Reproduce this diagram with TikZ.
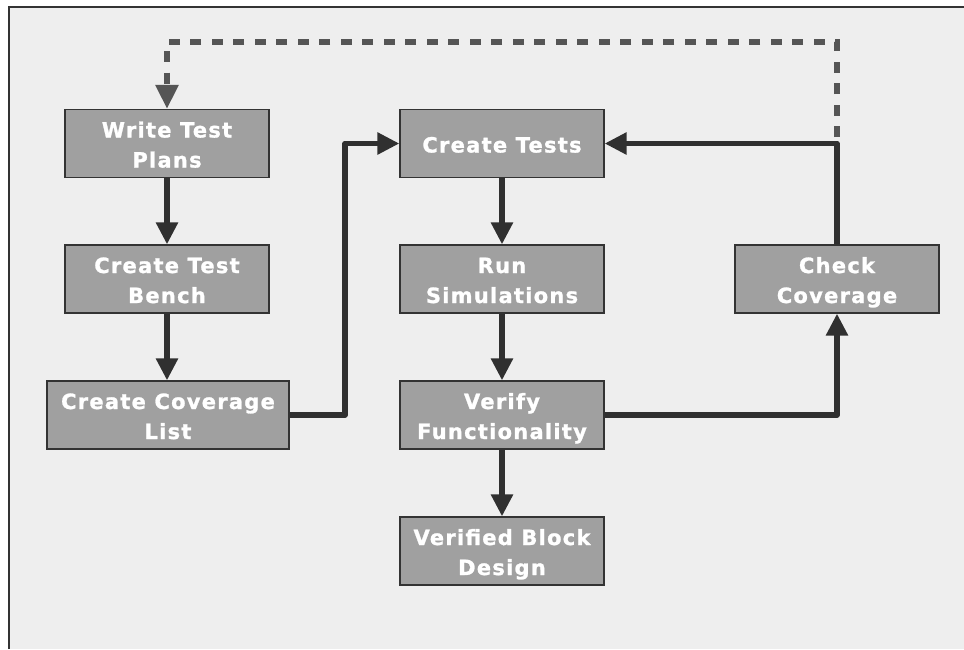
\documentclass[tikz,border=0pt]{standalone}
\usepackage{fontspec}
\setmainfont{DejaVu Sans}
\newfontfamily\boxfont{DejaVu Sans Bold}[LetterSpace=6,FakeBold=1.2]
\usetikzlibrary{arrows.meta}
\definecolor{bggray}{HTML}{EEEEEE}
\definecolor{boxgray}{HTML}{A0A0A0}
\definecolor{edgegray}{HTML}{333333}
\definecolor{linegray}{HTML}{303030}
\definecolor{dashgray}{HTML}{555555}
\newcommand{\bs}{\rule[-6pt]{0pt}{30pt}}
\tikzset{
  box/.style={draw=edgegray, line width=1.2pt, fill=boxgray, text=white,
    minimum width=204pt, minimum height=68pt, inner sep=0pt, align=center,
    font=\boxfont\fontsize{21}{30}\selectfont},
  flow/.style={draw=linegray, line width=5.5pt, line join=round,
    -{Triangle[length=22pt,width=21pt]}, color=linegray},
  dashflow/.style={draw=dashgray, line width=5.5pt, dash pattern=on 11pt off 10.5pt,
    -{Triangle[length=24pt,width=22pt]}, color=dashgray},
}
\begin{document}
\begin{tikzpicture}[x=1pt,y=-1pt]
\useasboundingbox (0,0) rectangle (964,649);
\fill[white] (0,0) rectangle (964,649);
\fill[bggray] (9,7) rectangle (964,649);
\draw[edgegray, line width=1.3pt] (9,649) -- (9,7) -- (964,7);

\node[box] (wtp) at (167,143.5) {\bs Write Test\\Plans\bs};
\node[box] (ctb) at (167,279) {\bs Create Test\\Bench\bs};
\node[box, minimum width=242pt] (ccl) at (168,415) {\bs Create Coverage\\List\bs};
\node[box] (ct) at (502,143.5) {\bs Create Tests};
\node[box] (rs) at (502,279) {\bs Run\\Simulations\bs};
\node[box] (vf) at (502,415) {\bs Verify\\Functionality\bs};
\node[box] (vbd) at (502,551) {\bs Verified Block\\Design\bs};
\node[box] (cc) at (837,279) {\bs Check\\Coverage\bs};

\coordinate (bend) at (345,415);
\coordinate (dtop) at (837,42);
\coordinate (dstart) at (837,137);

\draw[flow] (wtp) -- (ctb);
\draw[flow] (ctb) -- (ctb |- ccl.north);
\draw[flow] (ccl.east) -- (bend) |- (ct.west);
\draw[flow] (ct) -- (rs);
\draw[flow] (rs) -- (vf);
\draw[flow] (vf) -- (vbd);
\draw[flow] (vf.east) -| (cc.south);
\draw[flow] (cc.north) |- (ct.east);
\draw[dashflow] (dstart) -- (dtop) -| (wtp.north);
\end{tikzpicture}
\end{document}
